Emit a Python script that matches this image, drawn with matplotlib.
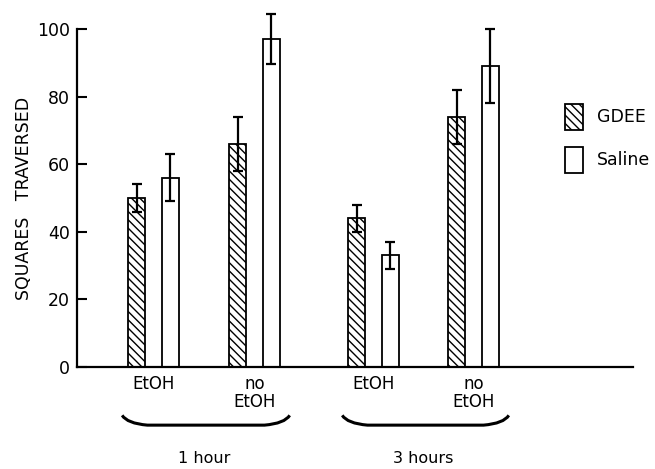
import matplotlib
matplotlib.use("Agg")
import matplotlib.pyplot as plt
from matplotlib.patches import Rectangle
from matplotlib.path import Path
from matplotlib.patches import PathPatch
import matplotlib.transforms as mtransforms
import numpy as np

# data
conditions = ["EtOH", "no\nEtOH", "EtOH", "no\nEtOH"]
hours = ["1 hour", "3 hours"]
gdee = [50, 66, 44, 74]
gdee_err = [4, 8, 4, 8]
saline = [56, 97, 33, 89]
saline_err = [7, 7.5, 4, 11]
series_names = ["GDEE", "Saline"]

plt.rcParams['font.family'] = ['DejaVu Sans']
fig = plt.figure(figsize=(6.55, 4.69), dpi=100)
ax = fig.add_axes([77/655, 1-367/469, 556/655, 338/469])

pos = np.array([0, 1, 2.18, 3.17])
w = 0.17
off = 0.166

ax.bar(pos - off, gdee, w, facecolor="white", edgecolor="black",
       linewidth=1.3, hatch="\\\\\\\\", zorder=2)
ax.bar(pos + off, saline, w, facecolor="white", edgecolor="black",
       linewidth=1.3, zorder=2)
ax.errorbar(pos - off, gdee, yerr=gdee_err, fmt="none", ecolor="black",
            elinewidth=1.6, capsize=3.5, capthick=1.6, zorder=3, clip_on=False)
ax.errorbar(pos + off, saline, yerr=saline_err, fmt="none", ecolor="black",
            elinewidth=1.6, capsize=3.5, capthick=1.6, zorder=3, clip_on=False)

ax.set_xlim(-0.757, 4.75)
ax.set_ylim(0, 100)
ax.set_yticks([0, 20, 40, 60, 80, 100])
ax.tick_params(axis="y", direction="in", length=7, width=1.5, labelsize=12.5, pad=5)
ax.set_xticks([])
for s in ["top", "right"]:
    ax.spines[s].set_visible(False)
ax.spines["left"].set_linewidth(1.6)
ax.spines["bottom"].set_linewidth(1.6)

ax.set_ylabel("SQUARES   TRAVERSED", fontsize=12.5, labelpad=3)

# condition labels under each pair
trans = mtransforms.blended_transform_factory(ax.transData, ax.transAxes)
for p, lab in zip(pos, conditions):
    ax.text(p, -0.025, lab, transform=trans, ha="center", va="top",
            fontsize=12, linespacing=0.95)

# braces and hour labels
for k, lab in enumerate(hours):
    x0 = pos[2*k] - 0.31
    x1 = pos[2*k+1] + 0.35
    yt, yb = -0.143, -0.172
    verts = [(x0, yt), (x0 + 0.05, yb + 0.005), (x0 + 0.25, yb),
             (x1 - 0.25, yb), (x1 - 0.05, yb + 0.005), (x1, yt)]
    codes = [Path.MOVETO, Path.CURVE3, Path.CURVE3,
             Path.LINETO, Path.CURVE3, Path.CURVE3]
    ax.add_patch(PathPatch(Path(verts, codes), facecolor="none",
                           edgecolor="black", linewidth=2.2,
                           transform=trans, clip_on=False))
    xm = (pos[2*k] + pos[2*k+1]) / 2
    ax.text(xm, -0.27, lab, transform=trans, ha="center", va="center",
            fontsize=11.5)

# legend drawn by hand
hatches = ["\\\\\\\\", None]
ys = [0.701, 0.574]
for name, h, y in zip(series_names, hatches, ys):
    ax.add_patch(Rectangle((0.878, y), 0.032, 0.077, transform=ax.transAxes,
                           facecolor="white", edgecolor="black",
                           linewidth=1.3, hatch=h, clip_on=False))
    ax.text(0.935, y + 0.038, name, transform=ax.transAxes, ha="left",
            va="center", fontsize=12.5)

fig.savefig("out.png", dpi=100)
